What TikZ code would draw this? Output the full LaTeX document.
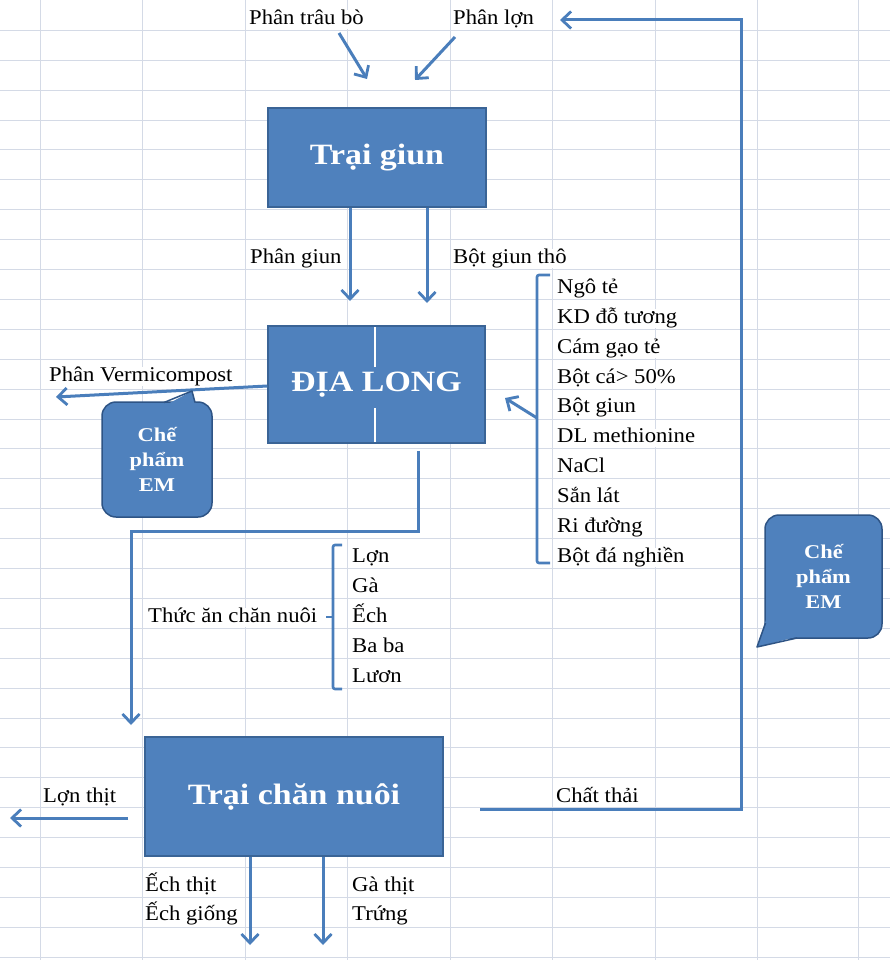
\documentclass[tikz,border=0pt]{standalone}
\usepackage{fontspec}
\setmainfont{Liberation Serif}[FakeStretch=1.08]
\newfontfamily\bxfont{Liberation Serif}[FakeStretch=1.15]
\usetikzlibrary{arrows.meta}
\definecolor{gridc}{HTML}{D4DAE6}
\definecolor{boxfill}{HTML}{4F81BD}
\definecolor{boxline}{HTML}{3A6496}
\definecolor{connc}{HTML}{4A7EBB}
\definecolor{emline}{HTML}{2E5485}
\begin{document}
\begin{tikzpicture}[x=1pt,y=-1pt,
  gridline/.style={draw=gridc, line width=1.1},
  lbl/.style={font=\fontsize{21}{25}\selectfont, anchor=base west, fill=white, inner xsep=1, inner ysep=0, text height=14, text depth=4.5},
  flowbox/.style={rectangle, fill=boxfill, draw=boxline, line width=1.5, text=white, font=\bxfont\bfseries\fontsize{29.5}{34}\selectfont, inner sep=0},
  embox/.style={rectangle, rounded corners=14, fill=boxfill, draw=emline, line width=1.5, text=white, align=center, inner sep=0, font=\bxfont\bfseries\fontsize{19.5}{25}\selectfont},
  connline/.style={draw=connc, line width=3},
  arr/.style={connline, -{Straight Barb[length=9, width=17, line width=2.8]}}
]
\fill[white] (0,0) rectangle (890,960);
\useasboundingbox (0,0) rectangle (890,960);
% grid
\foreach \x in {40,142,245,347,450,552,655,757,858} \draw[gridline] (\x+0.5,0) -- (\x+0.5,960);
\foreach \k in {1,...,32} \draw[gridline] (0,{round(\k*29.9)+0.5}) -- (890,{round(\k*29.9)+0.5});

% labels
\node[lbl] (t1) at (248,24.5) {Phân trâu bò};
\node[lbl] (t2) at (452,24.5) {Phân lợn};
\node[lbl] (t3) at (249,263.4) {Phân giun};
\node[lbl] (t4) at (452,263.4) {Bột giun thô};
\node[lbl] (t5) at (48,381) {Phân Vermicompost};
\foreach \txt [count=\i from 0] in {Ngô tẻ,KD đỗ tương,Cám gạo tẻ,Bột cá> 50\%,Bột giun,DL methionine,NaCl,Sắn lát,Ri đường,Bột đá nghiền}
  \node[lbl] (r\i) at (556,{293.3+29.9*\i}) {\txt};
\node[lbl] (t6) at (147,622.2) {Thức ăn chăn nuôi};
\foreach \txt [count=\i from 0] in {Lợn,Gà,Ếch,Ba ba,Lươn}
  \node[lbl] (m\i) at (351,{562.4+29.9*\i}) {\txt};
\node[lbl] (t7) at (42,802) {Lợn thịt};
\node[lbl] (t8) at (555,802) {Chất thải};
\node[lbl] (t9) at (144,891.3) {Ếch thịt};
\node[lbl] (t10) at (144,920) {Ếch giống};
\node[lbl] (t11) at (351,891.3) {Gà thịt};
\node[lbl] (t12) at (351,920) {Trứng};

% boxes
\node[flowbox, minimum width=218, minimum height=99] (giun) at (377,157.5) {Trại giun};
\node[flowbox, minimum width=217, minimum height=117] (dl) at (376.5,384.5) {ĐỊA LONG};
\node[flowbox, minimum width=298, minimum height=119] (cn) at (294,796.5) {Trại chăn nuôi};
\draw[white, line width=2] (375,327) -- (375,367) (375,408) -- (375,442);

% coordinates
\coordinate (p1s) at (339,33); \coordinate (p1e) at (367,79);
\coordinate (p2s) at (455,37); \coordinate (p2e) at (415,80);
\coordinate (g1) at (350,301); \coordinate (g2) at (427,303);
\coordinate (vm) at (56,397);
\coordinate (d1) at (418,531); \coordinate (d2) at (131,531); \coordinate (d3) at (131,725);
\coordinate (br) at (537,418); \coordinate (bra) at (505,398);
\coordinate (w0) at (480,809); \coordinate (w1) at (741,809); \coordinate (w2) at (741,20); \coordinate (w3) at (560,20);
\coordinate (l0) at (128,818); \coordinate (l1) at (10,818);
\coordinate (e1) at (250,945); \coordinate (e2) at (323,945);

% connectors
\draw[arr] (p1s) -- (p1e);
\draw[arr] (p2s) -- (p2e);
\draw[arr] (giun.south -| g1) -- (g1);
\draw[arr] (giun.south -| g2) -- (g2);
\draw[arr] ([yshift=-1.5]dl.west) -- (vm);
\draw[arr] ([yshift=-7]dl.south -| d1) -- (d1) -- (d2) -- (d3);
\draw[connline, line width=2.6, rounded corners=2] (550,275) -- (537,275) -- (537,563) -- (550,563);
\draw[arr] (br) -- (bra);
\draw[connline, line width=2.6, rounded corners=2] (342,545) -- (333,545) -- (333,689) -- (342,689);
\draw[connline, line width=2.6] (333,617) -- (326,617);
\draw[arr] (w0) -- (w1) -- (w2) -- (w3);
\draw[arr] (l0) -- (l1);
\draw[arr] (cn.south -| e1) -- (e1);
\draw[arr] (cn.south -| e2) -- (e2);

% callouts
\node[embox, minimum width=110, minimum height=115] (em1) at (157,459.5) {Chế\\phẩm\\EM};
\fill[boxfill] (166,405) -- (192,391) -- (196,405) -- cycle;
\draw[emline, line width=1.5, line join=round] (164,402.5) -- (192,391) -- (195,402.5);
\node[embox, minimum width=117, minimum height=123] (em2) at (823.5,576.5) {Chế\\phẩm\\EM};
\fill[boxfill] (766,620) -- (757,647) -- (798,636.5) -- (790,630) -- (772,624) -- cycle;
\draw[emline, line width=1.5, line join=round] (765.5,623) -- (757,647) -- (797,638);
\end{tikzpicture}
\end{document}
